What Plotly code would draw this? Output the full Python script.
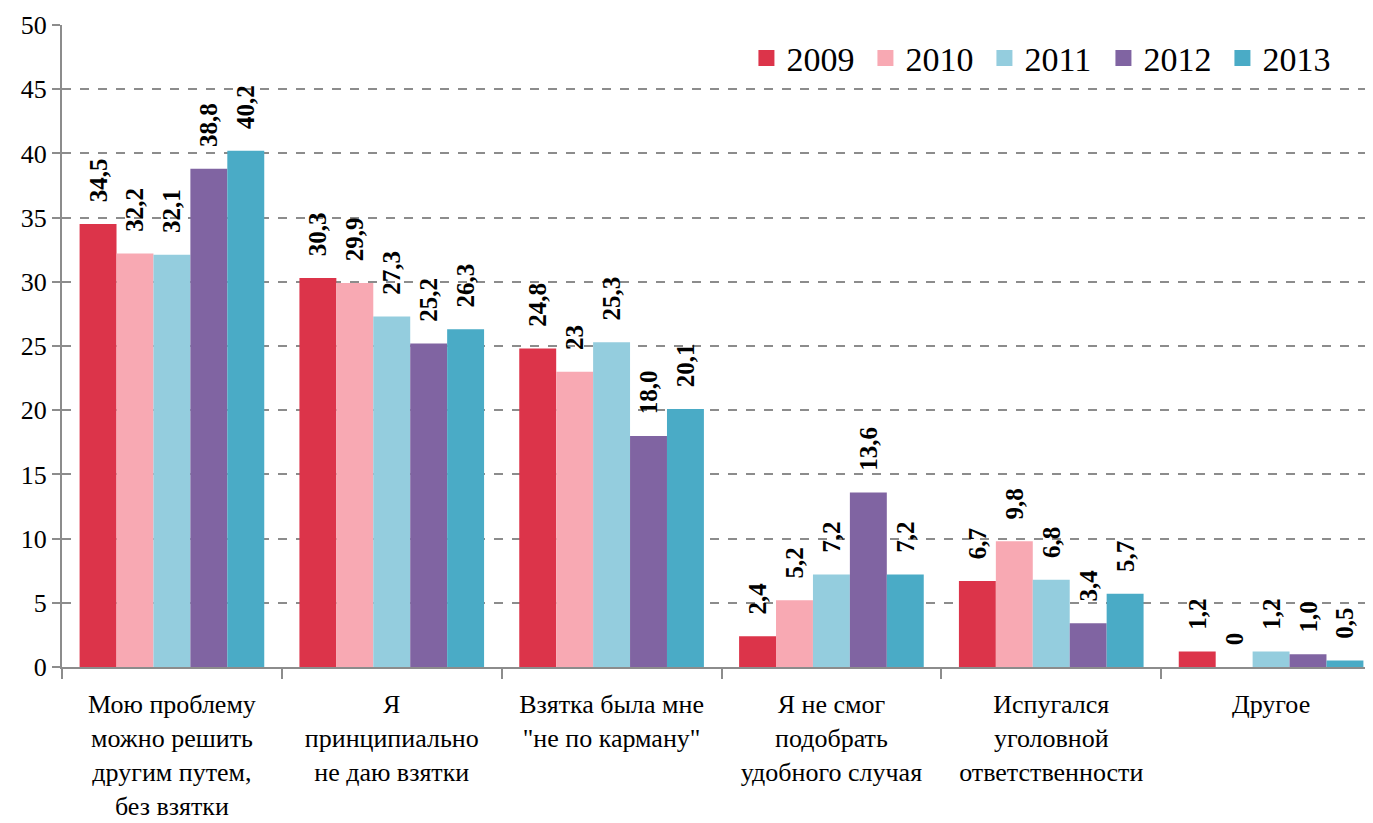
import plotly.graph_objects as go

categories = [
    "Мою проблему<br>можно решить<br>другим путем,<br>без взятки",
    "Я<br>принципиально<br>не даю взятки",
    "Взятка была мне<br>\"не по карману\"",
    "Я не смог<br>подобрать<br>удобного случая",
    "Испугался<br>уголовной<br>ответственности",
    "Другое",
]
years = ["2009", "2010", "2011", "2012", "2013"]
v2009 = [34.5, 30.3, 24.8, 2.4, 6.7, 1.2]
v2010 = [32.2, 29.9, 23.0, 5.2, 9.8, 0.0]
v2011 = [32.1, 27.3, 25.3, 7.2, 6.8, 1.2]
v2012 = [38.8, 25.2, 18.0, 13.6, 3.4, 1.0]
v2013 = [40.2, 26.3, 20.1, 7.2, 5.7, 0.5]
labels2009 = ["34,5", "30,3", "24,8", "2,4", "6,7", "1,2"]
labels2010 = ["32,2", "29,9", "23", "5,2", "9,8", "0"]
labels2011 = ["32,1", "27,3", "25,3", "7,2", "6,8", "1,2"]
labels2012 = ["38,8", "25,2", "18,0", "13,6", "3,4", "1,0"]
labels2013 = ["40,2", "26,3", "20,1", "7,2", "5,7", "0,5"]
colors = ["#DC344A", "#F8A9B3", "#94CDDE", "#8064A2", "#4AABC6"]

series = [v2009, v2010, v2011, v2012, v2013]
labels = [labels2009, labels2010, labels2011, labels2012, labels2013]

SERIF = "Liberation Serif"
PAD = "\u00a0\u00a0\u00a0"  # visual gap between bar top and rotated label

fig = go.Figure()
for name, vals, lab, col in zip(years, series, labels, colors):
    fig.add_trace(go.Bar(
        name=name, x=categories, y=vals, marker_color=col,
        marker_line_width=0, showlegend=False, legendgroup=name,
        text=[PAD + s for s in lab], textposition="outside", textangle=-90,
        constraintext="none", cliponaxis=False,
        textfont=dict(family=SERIF, size=25, color="black", weight="bold"),
    ))
# legend entries with larger square swatches
for name, col in zip(years, colors):
    fig.add_trace(go.Scatter(
        name=name, x=[None], y=[None], mode="markers", legendgroup=name,
        marker=dict(symbol="square", size=17, color=col), showlegend=True,
    ))

fig.update_layout(
    width=1373, height=823,
    margin=dict(l=54, r=0, t=17, b=164),
    barmode="group", bargap=0.16, bargroupgap=0,
    plot_bgcolor="white", paper_bgcolor="white",
    font=dict(family=SERIF, color="black"),
    legend=dict(
        orientation="h", x=0.970, y=0.993, xanchor="right", yanchor="top",
        font=dict(family=SERIF, size=34, color="black"),
        bgcolor="rgba(0,0,0,0)", itemwidth=30, traceorder="normal",
        itemsizing="trace", entrywidth=74, entrywidthmode="pixels",
    ),
    xaxis=dict(
        range=[-0.5, 5.5], showline=True, linecolor="#8C8C8C", linewidth=2,
        ticks="outside", tickson="boundaries", ticklen=10, tickcolor="#8C8C8C", tickwidth=2,
        tickfont=dict(family=SERIF, size=26, color="black"),
        ticklabelstandoff=13,
        showgrid=False, automargin=False,
    ),
    yaxis=dict(
        range=[0, 50], dtick=5, showline=True, linecolor="#8C8C8C", linewidth=2,
        ticks="outside", ticklen=8, tickcolor="#8C8C8C", tickwidth=2,
        tickfont=dict(family=SERIF, size=26, color="black"),
        showgrid=True, gridcolor="#8C8C8C", gridwidth=2, griddash="dash",
        zeroline=False, automargin=False,
    ),
)

fig.write_html("out.html")
